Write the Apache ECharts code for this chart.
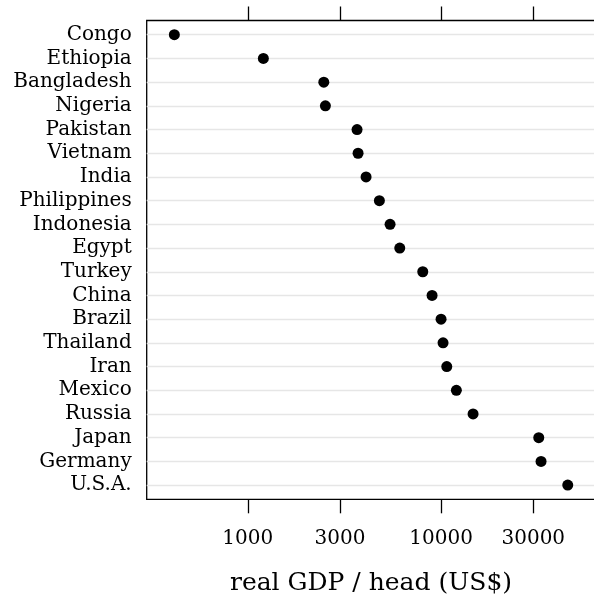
<!DOCTYPE html>
<html>
<head>
<meta charset="utf-8">
<script src="https://cdn.jsdelivr.net/npm/echarts@6/dist/echarts.min.js"></script>
<style>
  html, body { margin: 0; padding: 0; background: #fff; }
  #chart { width: 594px; height: 596px; }
</style>
</head>
<body>
<div id="chart"></div>
<script>
// Countries, top to bottom
const countries = [
  'Congo', 'Ethiopia', 'Bangladesh', 'Nigeria', 'Pakistan', 'Vietnam', 'India',
  'Philippines', 'Indonesia', 'Egypt', 'Turkey', 'China', 'Brazil', 'Thailand',
  'Iran', 'Mexico', 'Russia', 'Japan', 'Germany', 'U.S.A.'
];
// Real GDP per head (US$)
const gdpPerHead = [
  417, 1204, 2474, 2521, 3676, 3721, 4093,
  4796, 5447, 6114, 8042, 8984, 10000, 10240,
  10703, 12000, 14643, 32020, 32910, 45230
];
// Tick positions on the horizontal (log) axis
const xTicks = [1000, 3000, 10000, 30000];

const rows = countries.map((_, i) => i + 1);
const points = gdpPerHead.map((v, i) => [v, rows[i]]);

const FONT = 'DejaVu Serif';

const chart = echarts.init(document.getElementById('chart'), null, { renderer: 'canvas' });
chart.setOption({
  animation: false,
  backgroundColor: '#fff',
  grid: {
    left: 146.7, right: -1.3, top: 20.5, bottom: 96.7,
    outerBoundsMode: 'none', containLabel: false,
    show: true, borderColor: '#000', borderWidth: 1.3, backgroundColor: 'transparent'
  },
  xAxis: [
    {
      type: 'log', logBase: 10, min: 300, max: 62800, position: 'bottom',
      name: 'real GDP / head (US$)', nameLocation: 'middle', nameGap: 72,
      nameTextStyle: { fontFamily: FONT, fontSize: 25, color: '#000' },
      axisLine: { show: false },
      axisTick: { show: true, customValues: xTicks, length: 14, lineStyle: { color: '#000', width: 1.3 } },
      axisLabel: { customValues: xTicks, margin: 29, fontFamily: FONT, fontSize: 20, color: '#000',
                   formatter: v => String(Math.round(v)) },
      splitLine: { show: false }, minorTick: { show: false }
    },
    {
      type: 'log', logBase: 10, min: 300, max: 62800, position: 'top',
      axisLine: { show: false },
      axisTick: { show: true, customValues: xTicks, length: 14, lineStyle: { color: '#000', width: 1.3 } },
      axisLabel: { show: false },
      splitLine: { show: false }
    }
  ],
  yAxis: {
    type: 'value', min: 0.4, max: 20.6, inverse: true,
    axisLine: { show: false }, axisTick: { show: false }, splitLine: { show: false },
    axisLabel: {
      customValues: rows, margin: 15, fontFamily: FONT, fontSize: 20, color: '#000',
      formatter: v => countries[Math.round(v) - 1] || ''
    }
  },
  series: [
    {
      // light guide line across the panel for each country
      type: 'scatter', data: [], silent: true, z: 1,
      markLine: {
        silent: true, symbol: ['none', 'none'], label: { show: false }, z: 1,
        lineStyle: { color: '#e6e6e6', width: 1.4, type: 'solid' },
        emphasis: { disabled: true },
        data: rows.map(r => ({ yAxis: r }))
      }
    },
    {
      type: 'scatter', data: points, symbol: 'circle', symbolSize: 11, z: 5,
      itemStyle: { color: '#000', opacity: 1 }, silent: true
    }
  ]
});
</script>
</body>
</html>
